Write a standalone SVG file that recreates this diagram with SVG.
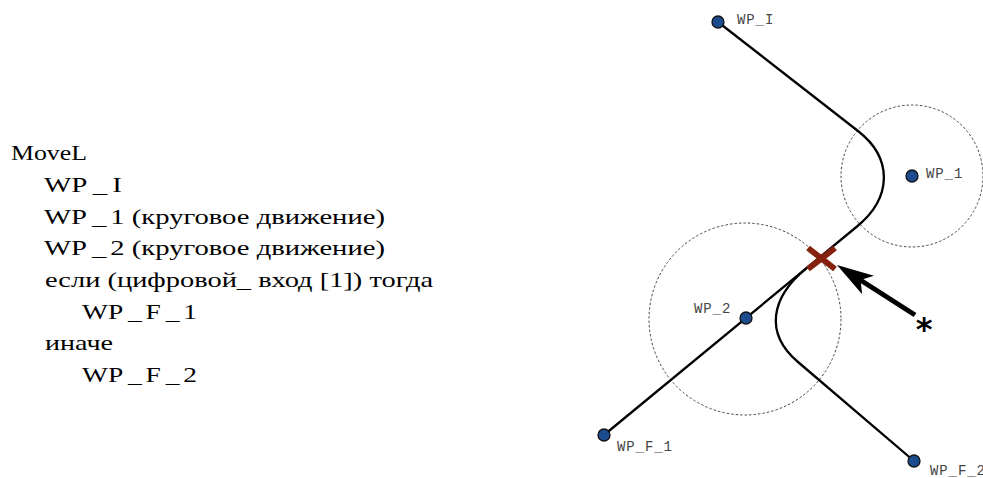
<svg xmlns="http://www.w3.org/2000/svg" width="983" height="478" viewBox="0 0 983 478">
<style>
.code{font-family:"Liberation Serif","DejaVu Serif",serif;font-size:22px;fill:#000}
.lbl{font-family:"Liberation Mono","DejaVu Sans Mono",monospace;font-size:14px;letter-spacing:0.9px;fill:#444}
.zone{fill:none;stroke:#444;stroke-width:1;stroke-dasharray:2.5 2}
.path{fill:none;stroke:#000;stroke-width:2.3}
.wp{fill:#1d4b8f;stroke:#111;stroke-width:1.3}
.x{stroke:#87210f;stroke-width:6;stroke-linecap:butt}
</style>
<defs>
<marker id="stealth" markerUnits="userSpaceOnUse" viewBox="0 -12 38 24" markerWidth="38" markerHeight="24" refX="12" refY="0" orient="auto">
<path d="M0,-11 L37,0 L0,11 L9,0 Z" fill="#000"/>
</marker>
</defs>
<g id="code">
<text class="code" x="11" y="160" textLength="76" lengthAdjust="spacingAndGlyphs">MoveL</text>
<text class="code" x="44" y="192" textLength="78" lengthAdjust="spacingAndGlyphs">WP<tspan dx="4">_</tspan><tspan dx="4">I</tspan></text>
<text class="code" x="44" y="223.5" textLength="341" lengthAdjust="spacingAndGlyphs">WP<tspan dx="4">_</tspan><tspan dx="3">1 (круговое движение)</tspan></text>
<text class="code" x="44" y="255" textLength="341" lengthAdjust="spacingAndGlyphs">WP<tspan dx="4">_</tspan><tspan dx="3">2 (круговое движение)</tspan></text>
<text class="code" x="45" y="287" textLength="388" lengthAdjust="spacingAndGlyphs">если (цифровой_ вход [1]) тогда</text>
<text class="code" x="82" y="318.5" textLength="115" lengthAdjust="spacingAndGlyphs">WP<tspan dx="4">_</tspan><tspan dx="3">F</tspan><tspan dx="4">_</tspan><tspan dx="3">1</tspan></text>
<text class="code" x="45" y="350" textLength="68" lengthAdjust="spacingAndGlyphs">иначе</text>
<text class="code" x="82" y="382" textLength="115" lengthAdjust="spacingAndGlyphs">WP<tspan dx="4">_</tspan><tspan dx="3">F</tspan><tspan dx="4">_</tspan><tspan dx="3">2</tspan></text>
</g>
<g id="zones">
<circle class="zone" cx="912" cy="176" r="71"/>
<circle class="zone" cx="745" cy="319" r="96"/>
</g>
<g id="connectors">
<path class="path" d="M718,22 L858,131 C893.6,158.7 891.7,198.4 857,226.5 L604,435"/>
<path class="path" d="M806,268.6 C771.3,297.2 763.7,332.8 798,362 L914,461"/>
<line x1="915" y1="315" x2="858" y2="278.5" stroke="#000" stroke-width="5" marker-end="url(#stealth)"/>
</g>
<g id="trigger">
<line class="x" x1="808" y1="248" x2="835" y2="269"/>
<line class="x" x1="835" y1="248" x2="808" y2="269"/>
</g>
<g id="asterisk"><text x="924" y="340" text-anchor="middle" font-family="DejaVu Sans,sans-serif" font-size="32" font-weight="bold" fill="#000">*</text></g>
<g id="WP_I"><circle class="wp" cx="718" cy="22" r="6"/><text class="lbl" x="737" y="23.5">WP_I</text></g>
<g id="WP_1"><circle class="wp" cx="912" cy="176" r="6"/><text class="lbl" x="926" y="178">WP_1</text></g>
<g id="WP_2"><circle class="wp" cx="746" cy="318" r="6"/><text class="lbl" x="694" y="313">WP_2</text></g>
<g id="WP_F_1"><circle class="wp" cx="604" cy="435" r="6"/><text class="lbl" x="617" y="451">WP_F_1</text></g>
<g id="WP_F_2"><circle class="wp" cx="914" cy="461" r="6"/><text class="lbl" x="930" y="475">WP_F_2</text></g>
</svg>
